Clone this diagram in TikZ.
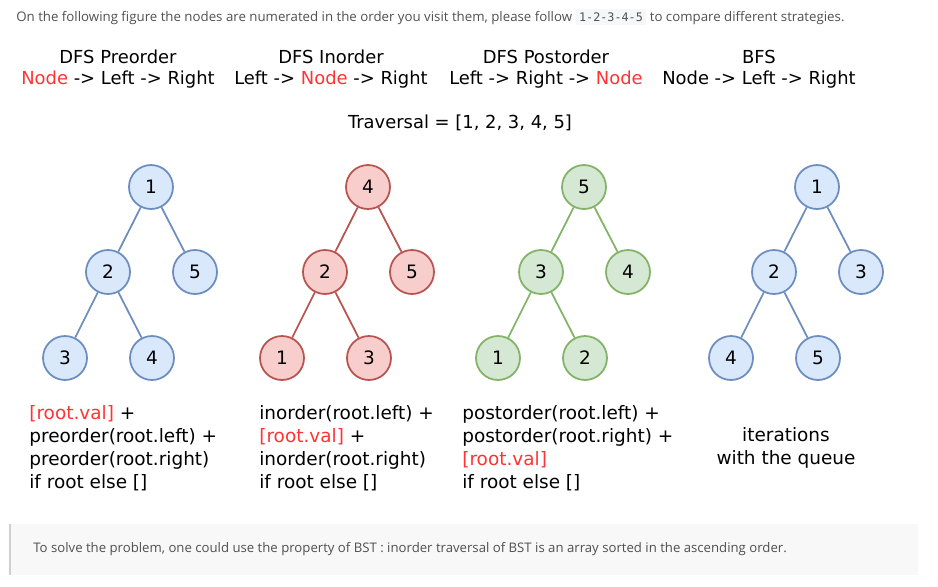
\documentclass[tikz,border=0pt]{standalone}
\usepackage{fontspec}
\setmainfont{DejaVu Sans}
\newfontfamily\uifont{Open Sans}
\newfontfamily\codefont{DejaVu Sans Mono}
\usetikzlibrary{positioning}
\definecolor{bfill}{HTML}{DAE8FC}
\definecolor{bline}{HTML}{6C8EBF}
\definecolor{rfill}{HTML}{F8CECC}
\definecolor{rline}{HTML}{B85450}
\definecolor{gfill}{HTML}{D5E8D4}
\definecolor{gline}{HTML}{82B366}
\definecolor{hlred}{HTML}{FF3333}
\definecolor{uitext}{HTML}{505050}
\definecolor{codebg}{HTML}{F5F7F9}
\definecolor{notebg}{HTML}{F8F8F8}
\definecolor{notebar}{HTML}{CFCFCF}

\begin{document}
\begin{tikzpicture}[x=0.02cm,y=-0.02cm,
    every node/.style={font=\fontsize{10.5}{13}\selectfont},
    heading/.style={font=\fontsize{10.2}{12}\selectfont},
    tnode/.style={circle,draw,line width=1pt,minimum size=0.88cm,inner sep=0pt},
    blue/.style={tnode,fill=bfill,draw=bline},
    red/.style={tnode,fill=rfill,draw=rline},
    green/.style={tnode,fill=gfill,draw=gline},
    codetext/.style={anchor=west,align=left,inner sep=0pt}]
    \useasboundingbox (0,0) rectangle (938,586);
    % intro line
    \node[anchor=west,inner sep=0pt,text=uitext,font=\uifont\fontsize{7.55}{9}\selectfont] (intro) at (16,17)
        {On the following figure the nodes are numerated in the order you visit them, please follow
        \tikz[baseline=(c.base)]\node[fill=codebg,rounded corners=1pt,inner sep=2pt,font=\codefont\fontsize{6.7}{8}\selectfont] (c) {1-2-3-4-5};
        to compare different strategies.};
    % headings
    \foreach \cx/\nm/\title/\order in {
        118/pre/DFS Preorder/{\textcolor{hlred}{Node} -> Left -> Right},
        331/in/DFS Inorder/{Left -> \textcolor{hlred}{Node} -> Right},
        546/post/DFS Postorder/{Left -> Right -> \textcolor{hlred}{Node}},
        759/bfs/BFS/{Node -> Left -> Right}}
    {
        \node[heading] (\nm-title) at (\cx,57) {\title};
        \node[heading] (\nm-order) at (\cx,80) {\order};
    }
    \node[heading] (trav) at (460,123) {Traversal = [1, 2, 3, 4, 5]};
    % the four trees
    \foreach \cx/\nm/\st/\ln/\a/\b/\c/\d/\e in {
        151/pre/blue/bline/1/2/5/3/4,
        368/in/red/rline/4/2/5/1/3,
        584/post/green/gline/5/3/4/1/2,
        817/bfs/blue/bline/1/2/3/4/5}
    {
        \node[\st] (\nm-r) at (\cx,187) {\a};
        \node[\st] (\nm-l) at (\cx-43,272) {\b};
        \node[\st] (\nm-rr) at (\cx+44,272) {\c};
        \node[\st] (\nm-ll) at (\cx-86,358) {\d};
        \node[\st] (\nm-lr) at (\cx+1,358) {\e};
        \draw[line width=1pt,draw=\ln] (\nm-r) -- (\nm-l);
        \draw[line width=1pt,draw=\ln] (\nm-r) -- (\nm-rr);
        \draw[line width=1pt,draw=\ln] (\nm-l) -- (\nm-ll);
        \draw[line width=1pt,draw=\ln] (\nm-l) -- (\nm-lr);
    }
    % recursive formulas
    \node[codetext] (pre-code) at (29,448)
        {\textcolor{hlred}{[root.val]} +\\ preorder(root.left) +\\ preorder(root.right)\\ if root else []};
    \node[codetext] (in-code) at (259,448)
        {inorder(root.left) +\\ \textcolor{hlred}{[root.val]} +\\ inorder(root.right)\\ if root else []};
    \node[codetext] (post-code) at (462,448)
        {postorder(root.left) +\\ postorder(root.right) +\\ \textcolor{hlred}{[root.val]}\\ if root else []};
    \node[align=center,inner sep=0pt] (bfs-code) at (786,448) {iterations\\ with the queue};
    % note at the bottom
    \fill[notebg] (9,524) rectangle (918,575);
    \draw[notebar,line width=1.6pt] (10,524) -- (10,575);
    \node[anchor=west,inner sep=0pt,text=uitext,font=\uifont\fontsize{7.5}{9}\selectfont] (note) at (33,549)
        {To solve the problem, one could use the property of BST : inorder traversal of BST is an array sorted in the ascending order.};
\end{tikzpicture}
\end{document}
